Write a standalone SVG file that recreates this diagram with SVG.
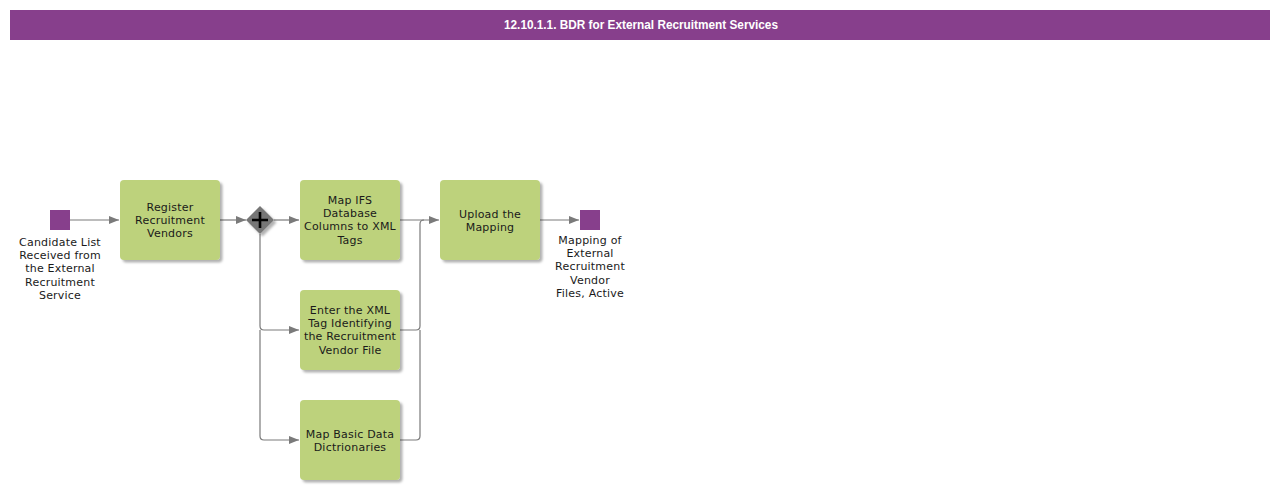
<svg xmlns="http://www.w3.org/2000/svg" width="1280" height="490" viewBox="0 0 1280 490">
<style>
.task{fill:#bdd27c;filter:url(#sh)}
.ev{fill:#873f8c}
.t{font-family:"DejaVu Sans",Verdana,sans-serif;font-size:11px;letter-spacing:0.2px;fill:#1a1a1a;text-anchor:middle}
.c{fill:none;stroke:#7a7a7a;stroke-width:1.2}
</style>
<defs>
<filter id="sh" x="-10%" y="-10%" width="130%" height="130%">
<feDropShadow dx="2.5" dy="2.5" stdDeviation="1.2" flood-color="#000" flood-opacity="0.3"/>
</filter>
<marker id="ar" markerWidth="10" markerHeight="8" refX="10" refY="4" orient="auto" markerUnits="userSpaceOnUse">
<path d="M0,0 L10,4 L0,8 Z" fill="#7a7a7a"/>
</marker>
</defs>
<rect x="10" y="10" width="1260" height="30" fill="#873f8c"/>
<text x="641" y="29" font-family="'Liberation Sans',Arial,sans-serif" font-weight="bold" font-size="12" fill="#fff" text-anchor="middle" textLength="274" lengthAdjust="spacingAndGlyphs">12.10.1.1. BDR for External Recruitment Services</text>
<g id="connectors">
<path class="c" d="M70,220 H119" marker-end="url(#ar)"/>
<path class="c" d="M220,220 H246" marker-end="url(#ar)"/>
<path class="c" d="M274,220 H299" marker-end="url(#ar)"/>
<path class="c" d="M260,234 V326 Q260,330 264,330 H299" marker-end="url(#ar)"/>
<path class="c" d="M260,330 V436 Q260,440 264,440 H299" marker-end="url(#ar)"/>
<path class="c" d="M400,220 H439" marker-end="url(#ar)"/>
<path class="c" d="M400,330 H416 Q420,330 420,326 V224 Q420,220 424,220"/>
<path class="c" d="M400,440 H416 Q420,440 420,436 V330"/>
<path class="c" d="M540,220 H579" marker-end="url(#ar)"/>
</g>
<g id="start">
<rect class="ev" x="50" y="210" width="20" height="20"/>
<text class="t" x="60" y="246">Candidate List</text>
<text class="t" x="60" y="259">Received from</text>
<text class="t" x="60" y="272">the External</text>
<text class="t" x="60" y="286">Recruitment</text>
<text class="t" x="60" y="299">Service</text>
</g>
<g id="task1">
<rect class="task" x="120" y="180" width="100" height="80" rx="4"/>
<text class="t" x="170" y="211">Register</text>
<text class="t" x="170" y="224">Recruitment</text>
<text class="t" x="170" y="237">Vendors</text>
</g>
<g id="gateway">
<path d="M260,206 L274,220 L260,234 L246,220 Z" fill="#767676" filter="url(#sh)"/>
<path d="M260,212 V228 M252,220 H268" stroke="#000" stroke-width="2.6"/>
</g>
<g id="task2">
<rect class="task" x="300" y="180" width="100" height="80" rx="4"/>
<text class="t" x="350" y="204">Map IFS</text>
<text class="t" x="350" y="217">Database</text>
<text class="t" x="350" y="230">Columns to XML</text>
<text class="t" x="350" y="244">Tags</text>
</g>
<g id="task3">
<rect class="task" x="300" y="290" width="100" height="80" rx="4"/>
<text class="t" x="350" y="314">Enter the XML</text>
<text class="t" x="350" y="327">Tag Identifying</text>
<text class="t" x="350" y="340">the Recruitment</text>
<text class="t" x="350" y="354">Vendor File</text>
</g>
<g id="task4">
<rect class="task" x="300" y="400" width="100" height="80" rx="4"/>
<text class="t" x="350" y="438">Map Basic Data</text>
<text class="t" x="350" y="451">Dictrionaries</text>
</g>
<g id="task5">
<rect class="task" x="440" y="180" width="100" height="80" rx="4"/>
<text class="t" x="490" y="218">Upload the</text>
<text class="t" x="490" y="231">Mapping</text>
</g>
<g id="end">
<rect class="ev" x="580" y="210" width="20" height="20"/>
<text class="t" x="590" y="244">Mapping of</text>
<text class="t" x="590" y="257">External</text>
<text class="t" x="590" y="270">Recruitment</text>
<text class="t" x="590" y="284">Vendor</text>
<text class="t" x="590" y="297">Files, Active</text>
</g>
</svg>
